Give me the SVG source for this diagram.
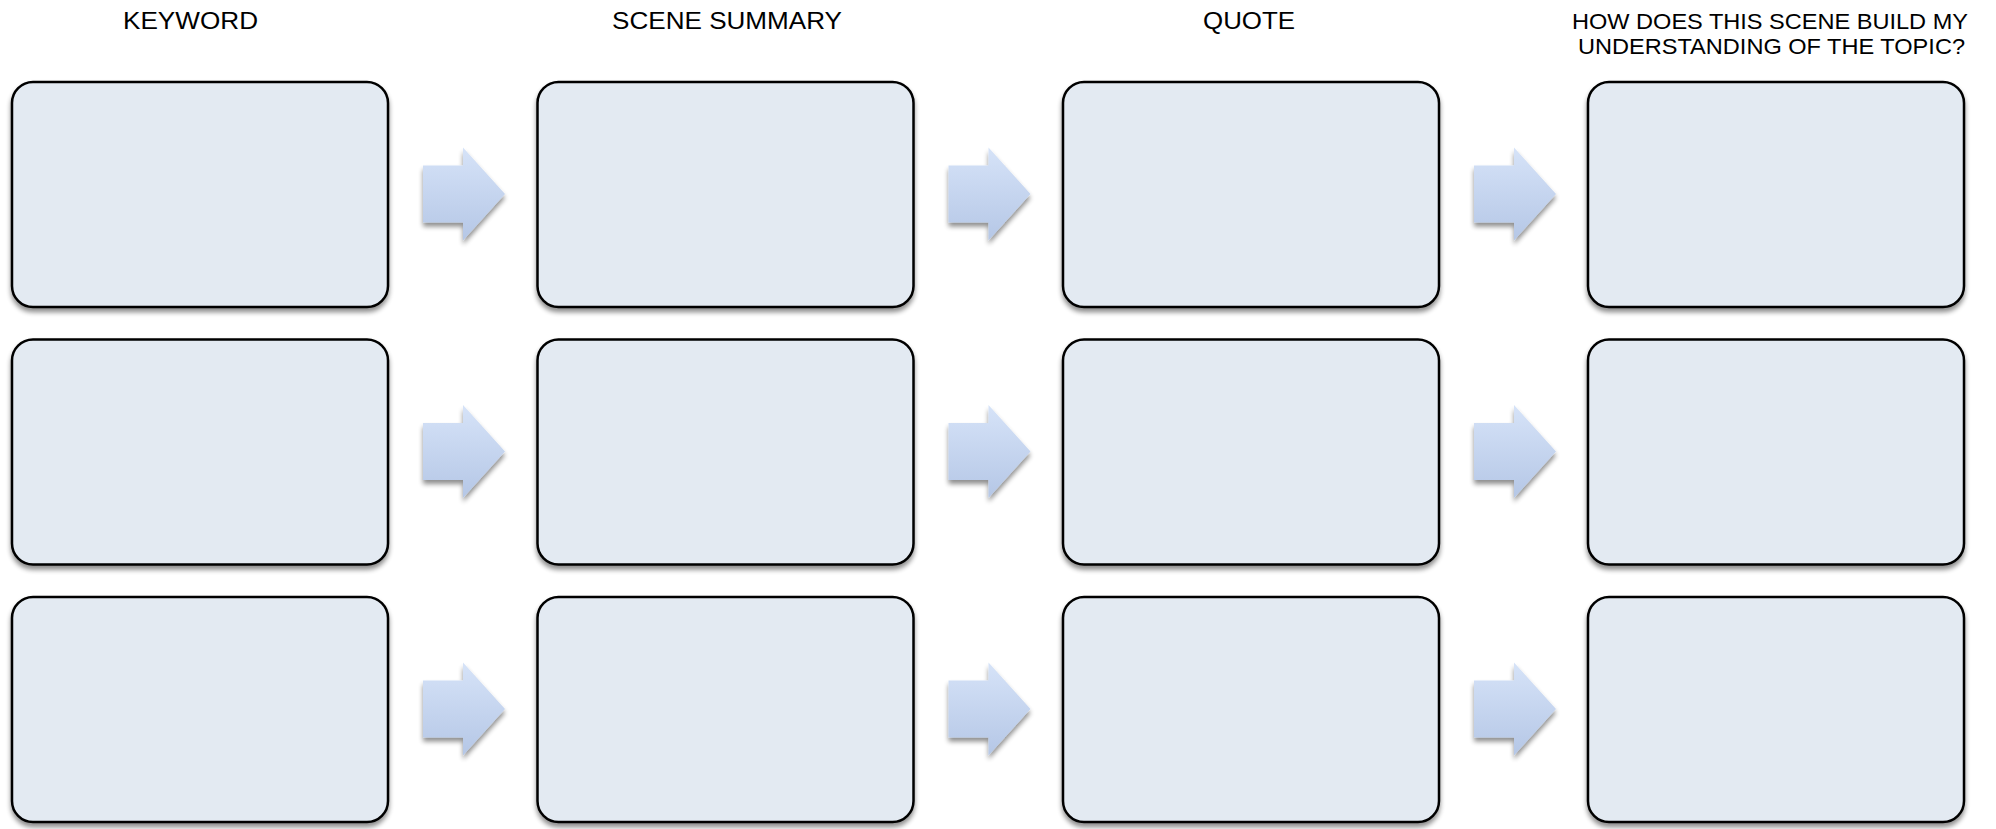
<svg xmlns="http://www.w3.org/2000/svg" width="1996" height="829" viewBox="0 0 1996 829">
<defs>
<style>
.hdr{font-family:"Liberation Sans",Arial,sans-serif;font-size:23px;fill:#000;text-anchor:middle}
.hdr2{font-size:22.5px}
.box{fill:#e3eaf2;stroke:#000;stroke-width:2.5}
.arr{fill:url(#ag)}
</style>
<linearGradient id="ag" x1="0" y1="0" x2="0" y2="1">
<stop offset="0" stop-color="#d6e3f8"/>
<stop offset="1" stop-color="#b5c7e6"/>
</linearGradient>
<filter id="sh" x="-10%" y="-10%" width="120%" height="125%">
<feGaussianBlur in="SourceAlpha" stdDeviation="2.5"/>
<feOffset dx="0" dy="4" result="b"/>
<feComponentTransfer><feFuncA type="linear" slope="0.45"/></feComponentTransfer>
<feMerge><feMergeNode/><feMergeNode in="SourceGraphic"/></feMerge>
</filter>
<rect id="b" x="0" y="0" width="376" height="225" rx="21" ry="21" class="box"/>
<path id="a" d="M0,-28.5 H40 V-46.5 L82,0 L40,46.5 V28.5 H0 Z" class="arr"/>
</defs>
<rect width="1996" height="829" fill="#fff"/>
<g id="headers">
<text class="hdr" x="190.5" y="29.3" textLength="135" lengthAdjust="spacingAndGlyphs">KEYWORD</text>
<text class="hdr" x="727" y="29.3" textLength="230" lengthAdjust="spacingAndGlyphs">SCENE SUMMARY</text>
<text class="hdr" x="1249" y="29.3" textLength="92" lengthAdjust="spacingAndGlyphs">QUOTE</text>
<text class="hdr hdr2" x="1770" y="29.3" textLength="396" lengthAdjust="spacingAndGlyphs">HOW DOES THIS SCENE BUILD MY</text>
<text class="hdr hdr2" x="1771.5" y="54" textLength="387" lengthAdjust="spacingAndGlyphs">UNDERSTANDING OF THE TOPIC?</text>
</g>
<g filter="url(#sh)">
<g id="n-r1c1"><use href="#b" x="12" y="82"/></g>
<g id="n-r1c2"><use href="#b" x="537.5" y="82"/></g>
<g id="n-r1c3"><use href="#b" x="1063" y="82"/></g>
<g id="n-r1c4"><use href="#b" x="1588" y="82"/></g>
<g id="n-r2c1"><use href="#b" x="12" y="339.5"/></g>
<g id="n-r2c2"><use href="#b" x="537.5" y="339.5"/></g>
<g id="n-r2c3"><use href="#b" x="1063" y="339.5"/></g>
<g id="n-r2c4"><use href="#b" x="1588" y="339.5"/></g>
<g id="n-r3c1"><use href="#b" x="12" y="597"/></g>
<g id="n-r3c2"><use href="#b" x="537.5" y="597"/></g>
<g id="n-r3c3"><use href="#b" x="1063" y="597"/></g>
<g id="n-r3c4"><use href="#b" x="1588" y="597"/></g>
</g>
<g id="connectors" filter="url(#sh)">
<use href="#a" x="423" y="194"/>
<use href="#a" x="948.5" y="194"/>
<use href="#a" x="1474" y="194"/>
<use href="#a" x="423" y="451.5"/>
<use href="#a" x="948.5" y="451.5"/>
<use href="#a" x="1474" y="451.5"/>
<use href="#a" x="423" y="709"/>
<use href="#a" x="948.5" y="709"/>
<use href="#a" x="1474" y="709"/>
</g>
</svg>
